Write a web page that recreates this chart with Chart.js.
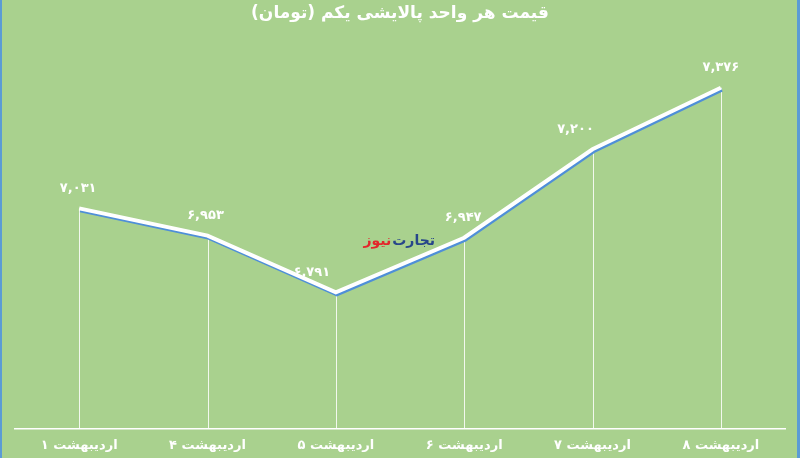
<!DOCTYPE html>
<html>
<head>
<meta charset="utf-8">
<script src="https://cdn.jsdelivr.net/npm/chart.js@4.4.1/dist/chart.umd.min.js"></script>
<style>
	html, body { margin: 0; padding: 0; background: #A9D18E; overflow: hidden; }
	#wrap { position: relative; width: 800px; height: 458px; overflow: hidden; }
	#wrap canvas { display: block; }
</style>
</head>
<body>
<div id="wrap"><canvas id="myChart" width="800" height="462"></canvas></div>
<script>
	// data
	const labels = ['۱ اردیبهشت', '۴ اردیبهشت', '۵ اردیبهشت', '۶ اردیبهشت', '۷ اردیبهشت', '۸ اردیبهشت'];
	const prices = [7031, 6953, 6791, 6947, 7200, 7376];
	const priceLabels = ['۷,۰۳۱', '۶,۹۵۳', '۶,۷۹۱', '۶,۹۴۷', '۷,۲۰۰', '۷,۳۷۶'];

	const font = "'DejaVu Sans', sans-serif";

	// little nudges so labels sit like in the original
	const labelShiftX = [-1, -2, -24, -1, -17, 0];

	const decor = {
		id: 'decor',
		beforeDraw(chart) {
			const ctx = chart.ctx;
			ctx.save();
			ctx.fillStyle = '#A9D18E';
			ctx.fillRect(0, 0, chart.width, chart.height);
			ctx.fillStyle = '#5B9BD5';
			ctx.fillRect(0, 0, 2, chart.height);
			ctx.fillRect(chart.width - 3, 0, 3, chart.height);
			ctx.restore();
		},
		beforeDatasetsDraw(chart) {
			// thin drop lines from each point down to the axis
			const ctx = chart.ctx;
			const meta = chart.getDatasetMeta(0);
			const bottom = chart.scales.x.top;
			ctx.save();
			ctx.strokeStyle = 'rgba(255,255,255,0.85)';
			ctx.lineWidth = 1;
			meta.data.forEach(p => {
				ctx.beginPath();
				ctx.moveTo(Math.round(p.x) + 0.5, p.y);
				ctx.lineTo(Math.round(p.x) + 0.5, bottom);
				ctx.stroke();
			});
			ctx.restore();
		},
		beforeDatasetDraw(chart) {
			const ctx = chart.ctx;
			ctx.save();
			ctx.shadowColor = '#4F8FD8';
			ctx.shadowOffsetX = 1;
			ctx.shadowOffsetY = 2;
			ctx.shadowBlur = 0;
		},
		afterDatasetDraw(chart) {
			chart.ctx.restore();
		},
		afterDatasetsDraw(chart) {
			const ctx = chart.ctx;
			const meta = chart.getDatasetMeta(0);
			ctx.save();
			ctx.fillStyle = '#FFFFFF';
			ctx.font = 'bold 13px ' + font;
			ctx.textAlign = 'center';
			ctx.textBaseline = 'middle';
			meta.data.forEach((p, i) => {
				ctx.fillText(priceLabels[i], p.x + labelShiftX[i], p.y - 20);
			});

			// watermark
			const cx = (chart.chartArea.left + chart.chartArea.right) / 2;
			ctx.font = 'bold 14px ' + font;
			ctx.textAlign = 'right';
			ctx.direction = 'rtl';
			ctx.fillStyle = '#27468A';
			const right = cx + 35;
			ctx.fillText('تجارت', right, 241);
			const w = ctx.measureText('تجارت').width;
			ctx.fillStyle = '#E3262B';
			ctx.fillText('نیوز', right - w - 1, 241);
			ctx.restore();
		}
	};

	const data = {
		labels: labels,
		datasets: [{
			label: 'قیمت',
			data: prices,
			borderColor: '#FFFFFF',
			borderWidth: 4,
			pointRadius: 0,
			tension: 0,
			fill: false
		}]
	};

	const config = {
		type: 'line',
		data: data,
		options: {
			responsive: false,
			animation: false,
			layout: { padding: { left: 15, right: 15, top: 0, bottom: 0 } },
			plugins: {
				legend: { display: false },
				tooltip: { enabled: false },
				title: {
					display: true,
					text: 'قیمت هر واحد پالایشی یکم (تومان)',
					color: '#FFFFFF',
					font: { family: font, size: 17, weight: 'bold' },
					padding: { top: 3, bottom: 21 }
				}
			},
			scales: {
				x: {
					offset: true,
					grid: { display: false, drawTicks: false },
					border: { color: '#FFFFFF', width: 1.5 },
					ticks: {
						color: '#FFFFFF',
						font: { family: font, size: 13, weight: 'bold', lineHeight: 1 },
						padding: 10,
						maxRotation: 0
					}
				},
				y: {
					display: false,
					min: 6400,
					max: 7500
				}
			}
		},
		plugins: [decor]
	};

	const myChart = new Chart(document.getElementById('myChart'), config);
</script>
</body>
</html>
